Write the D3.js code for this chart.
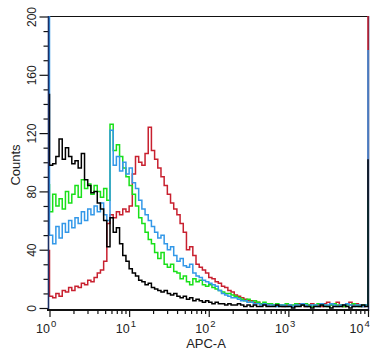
<!DOCTYPE html>
<html>
<head>
<meta charset="utf-8">
<script src="https://cdn.jsdelivr.net/npm/d3@7"></script>
<style>
  body { margin: 0; background: #fff; }
  svg { display: block; font-family: "Liberation Sans", Arial, sans-serif; }
</style>
</head>
<body>
<svg id="chart" width="370" height="353"></svg>
<script>
// histogram bins: log10 start and width of each bin
const binStart = 0;
const binStep = 0.04;

const seriesNames = ["red", "green", "blue", "black"];
const seriesColors = ["#c8202f", "#19e019", "#3398e8", "#000000"];

const redCounts = [8,7,10,8,12,11,14,12,15,14,
  17,16,19,18,21,24,26,32,58,64,
  62,66,64,68,66,70,92,104,100,98,
  106,124,108,102,96,90,84,78,72,68,
  64,58,52,40,42,36,30,28,26,24,
  21,20,18,17,15,14,12,11,9,8,
  7,6,5,5,4,4,3,3,2,3,
  2,2,2,1,2,2,1,2,3,2,
  1,2,3,2,2,1,3,4,2,3,
  4,2,1,3,4,2,3,2,1,2];

const greenCounts = [66,78,70,75,68,80,72,78,84,76,
  88,82,85,78,84,80,76,82,74,126,
  108,112,104,96,90,84,78,70,62,58,
  52,47,44,38,34,38,30,28,30,25,
  24,20,22,18,16,20,18,19,16,15,
  16,14,13,12,11,10,10,9,8,7,
  6,5,6,4,5,4,3,4,3,3,
  2,3,2,2,3,2,2,3,2,2,
  3,2,1,2,3,2,2,1,2,3,
  2,2,1,2,2,3,2,1,2,2];

const blueCounts = [50,44,56,48,58,52,60,55,62,58,
  66,60,68,64,70,66,72,64,60,122,
  98,104,94,100,92,96,86,82,74,68,
  64,60,56,52,48,50,44,40,42,36,
  32,34,29,28,30,24,22,21,19,18,
  17,16,15,12,10,9,8,7,7,6,
  5,5,4,4,3,3,2,3,2,2,
  2,1,2,2,1,2,1,2,2,3,
  2,1,2,2,1,3,2,2,3,2,
  1,2,2,3,2,1,2,2,1,2];

const blackCounts = [98,99,104,116,102,110,104,99,101,96,
  106,88,84,79,80,72,68,60,42,62,
  52,55,44,36,32,27,24,22,19,18,
  16,17,14,13,12,11,12,10,9,10,
  8,7,8,6,7,5,6,5,4,5,
  4,3,4,3,3,2,3,2,2,3,
  2,1,2,1,2,1,1,2,1,1,
  1,2,1,1,1,1,0,1,1,2,
  1,1,0,1,1,2,1,1,0,1,
  1,1,2,1,0,1,1,1,2,1];

// first and last channel (off-scale events piled at the edges)
const leftEdgeCounts = [40, 85, 260, 147];
const rightEdgeCounts = [250, 74, 177, 102];

const yTicks = [0, 40, 80, 120, 160, 200];
const xDecades = [0, 1, 2, 3, 4];

const allCounts = [redCounts, greenCounts, blueCounts, blackCounts];

const svg = d3.select("#chart");
const x = d3.scaleLog().domain([1, 1e4]).range([49.5, 368]);
const y = d3.scaleLinear().domain([0, 200]).range([308, 16.5]);

svg.append("clipPath").attr("id", "plotClip")
  .append("rect").attr("x", 48).attr("y", 16).attr("width", 322).attr("height", 295);

// frame
svg.append("line").attr("x1", 48).attr("x2", 369).attr("y1", 16.5).attr("y2", 16.5)
  .attr("stroke", "#111").attr("stroke-width", 1.2);
svg.append("line").attr("x1", 368.5).attr("x2", 368.5).attr("y1", 16).attr("y2", 311)
  .attr("stroke", "#1b2f66").attr("stroke-width", 1.5);

// y axis
const yAxis = d3.axisLeft(y)
  .tickValues(d3.range(0, 201, 10))
  .tickFormat(d => yTicks.includes(d) ? d : "");
const yg = svg.append("g").attr("transform", "translate(48.5,0)").call(yAxis);
yg.select(".domain").remove();
yg.selectAll(".tick line")
  .attr("x2", d => yTicks.includes(d) ? -9 : -5)
  .attr("stroke", "#111").attr("stroke-width", 1.2);
yg.selectAll(".tick text")
  .attr("transform", "rotate(-90)")
  .attr("x", 0).attr("y", -13).attr("dy", 0)
  .attr("text-anchor", "middle")
  .attr("font-size", 12)
  .attr("font-family", "Liberation Sans, Arial, sans-serif")
  .attr("fill", "#222");

// x axis
const xTickVals = [];
xDecades.slice(0, 4).forEach(d => { for (let k = 1; k < 10; k++) xTickVals.push(k * Math.pow(10, d)); });
xTickVals.push(1e4);
const isDecade = v => Math.abs(Math.log10(v) - Math.round(Math.log10(v))) < 1e-9;
const xAxis = d3.axisBottom(x).tickValues(xTickVals).tickFormat("");
const xg = svg.append("g").attr("transform", "translate(0,310)").call(xAxis);
xg.select(".domain").remove();
xg.selectAll(".tick line")
  .attr("y2", d => isDecade(d) ? 7 : 4)
  .attr("stroke", "#111").attr("stroke-width", 1.2);

const labels = svg.append("g").attr("fill", "#222");
xDecades.forEach(d => {
  // last label pulled in a little so the exponent stays inside the window
  const px = Math.min(x(Math.pow(10, d)), 363);
  labels.append("text").attr("x", px + 0.5).attr("y", 333)
    .attr("text-anchor", "end").attr("font-size", 12.5).text("10");
  labels.append("text").attr("x", px + 1.5).attr("y", 326.5)
    .attr("text-anchor", "start").attr("font-size", 9.5).text(d);
});

labels.append("text").attr("x", 206).attr("y", 348)
  .attr("text-anchor", "middle").attr("font-size", 13).text("APC-A");
labels.append("text").attr("transform", "translate(20,165) rotate(-90)")
  .attr("text-anchor", "middle").attr("font-size", 13).text("Counts");

// histograms
const line = d3.line()
  .x(d => x(d[0]))
  .y(d => y(d[1]))
  .curve(d3.curveStepAfter);

const plot = svg.append("g").attr("clip-path", "url(#plotClip)");
allCounts.forEach((counts, s) => {
  const pts = [[1, leftEdgeCounts[s]]];
  counts.forEach((c, i) => pts.push([Math.pow(10, binStart + i * binStep), c]));
  pts.push([1e4, counts[counts.length - 1]]);
  pts.push([1e4, rightEdgeCounts[s]]);
  plot.append("path")
    .datum(pts)
    .attr("class", "series-" + seriesNames[s])
    .attr("fill", "none")
    .attr("stroke", seriesColors[s])
    .attr("stroke-width", 1.5)
    .attr("d", line);
});

// axis lines on the left and bottom
svg.append("line").attr("x1", 48.5).attr("x2", 48.5).attr("y1", 16).attr("y2", 311)
  .attr("stroke", "#1b2f66").attr("stroke-width", 1.6);
svg.append("line").attr("x1", 47).attr("x2", 369).attr("y1", 310).attr("y2", 310)
  .attr("stroke", "#111").attr("stroke-width", 1.8);
</script>
</body>
</html>
